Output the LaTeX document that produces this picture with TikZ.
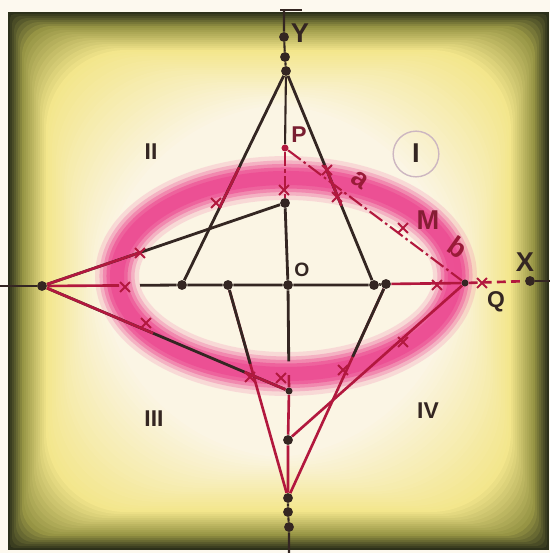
\documentclass[tikz,border=0pt]{standalone}
\usepackage{fontspec}
\setmainfont{Liberation Sans}
\usetikzlibrary{calc,shapes.misc}
\definecolor{ink}{RGB}{52,38,34}
\definecolor{crim}{RGB}{178,24,62}
\definecolor{rose}{RGB}{236,62,140}
\definecolor{darkolive}{RGB}{44,48,26}
\definecolor{olivey}{RGB}{150,148,68}
\definecolor{yel}{RGB}{243,230,140}
\definecolor{cream}{RGB}{251,245,228}
\tikzset{
  dot/.style={circle,fill=ink,inner sep=0pt,minimum size=5.6pt},
  sdot/.style={circle,fill=ink,inner sep=0pt,minimum size=4pt},
  xmk/.style={cross out,draw=crim,line width=1.1pt,inner sep=0pt,minimum size=4.5pt},
  lab/.style={font=\bfseries\fontsize{13}{13}\selectfont,text=ink,inner sep=1pt},
  biglab/.style={lab,font=\bfseries\fontsize{15.5}{15.5}\selectfont},
  dk/.style={draw=ink,line width=1.6pt},
  rd/.style={draw=crim,line width=1.5pt}
}
\begin{document}
\begin{tikzpicture}[x=0.02cm,y=-0.02cm]
\useasboundingbox (0,0) rectangle (550,553);
\fill[cream!60!white] (0,0) rectangle (550,553);
\foreach \i in {0,...,7}{\pgfmathtruncatemacro\p{100*\i/7}\pgfmathsetmacro\r{2.4*\i}
  \fill[olivey!\p!darkolive,rounded corners=\r pt] (8+2*\i,12+2*\i) rectangle (549-2*\i,550-2*\i);}
\foreach \i in {8,...,19}{\pgfmathtruncatemacro\p{(\i-7)*100/12}\pgfmathsetmacro\r{2.4*\i}
  \fill[yel!\p!olivey,rounded corners=\r pt] (8+2*\i,12+2*\i) rectangle (549-2*\i,550-2*\i);}
\foreach \i in {20,...,46}{\pgfmathtruncatemacro\p{(\i-19)*100/27}\pgfmathsetmacro\r{2.4*\i}
  \fill[cream!\p!yel,rounded corners=\r pt] (8+2*\i,12+2*\i) rectangle (549-2*\i,550-2*\i);}
\foreach \w/\o in {25/.15,20/.25,16/.35,12/.5,8/.5}
  \draw[rose,line width=\w pt,opacity=\o] (286,276) ellipse [x radius=169,y radius=98];

\node[dot] (y1) at (284,37) {};
\node[dot] (y2) at (285,57) {};
\node[dot] (A) at (286,71) {};
\node[sdot,fill=crim] (P) at (285,148) {};
\node[dot] (S) at (285,203) {};
\node[dot] (O) at (288,285) {};
\node[dot] (L) at (42,286) {};
\node[dot] (E1) at (182,285) {};
\node[dot] (E2) at (228,285) {};
\node[dot] (E3) at (374,285) {};
\node[dot] (E4) at (386,284) {};
\node[sdot] (Q) at (465,283) {};
\node[dot] (X) at (530,281) {};
\node[sdot] (V) at (289,391) {};
\node[dot] (W) at (288,440) {};
\node[dot] (B) at (288,498) {};
\node[dot] (b2) at (288,512) {};
\node[dot] (b3) at (289,527) {};
\coordinate (ytop) at (284,10);
\coordinate (ybot) at (289,553);
\coordinate (xl) at (0,286);
\coordinate (xr) at (550,281);
\coordinate (tk1) at (280,10);
\coordinate (tk2) at (302,10);

\draw[ink,line width=1pt] (tk1) -- (tk2);
\draw[dk,line width=1.2pt] (ytop) -- (y1) -- (y2) -- (A) -- (P);
\draw[rd,dash pattern=on 8pt off 2pt on 2pt off 2pt] (P) -- (S);
\draw[dk] (S) -- (O) -- ($(O)!0.72!(V)$);
\draw[rd] ($(O)!0.85!(V)$) -- (V) -- (W) -- (B);
\draw[dk,line width=1.2pt] (B) -- (b2) -- (b3) -- (ybot);

\draw[dk,line width=1pt] (xl) -- (L);
\draw[rd] (L) -- ($(L)!0.55!(E1)$);
\draw[dk] ($(L)!0.7!(E1)$) -- (E1) -- (E2) -- (O) -- (E3) -- (E4);
\draw[rd] (E4) -- (Q);
\draw[rd,dash pattern=on 5pt off 3pt] (Q) -- (X);
\draw[dk,line width=1.2pt] (X) -- (xr);

\draw[dk] (A) -- (E1);
\draw[rd] ($(A)!0.45!(E1)$) -- ($(A)!0.64!(E1)$);
\draw[dk] (A) -- (E3);
\draw[rd] ($(A)!0.44!(E3)$) -- ($(A)!0.63!(E3)$);
\draw[rd] (B) -- (E2);
\draw[dk] (E2) -- ($(E2)!0.37!(B)$);
\draw[rd] (B) -- (E4);
\draw[dk] (E4) -- ($(E4)!0.34!(B)$);
\draw[dk] (L) -- (S);
\draw[rd] (L) -- ($(L)!0.4!(S)$);
\draw[dk] (L) -- (V);
\draw[rd] (L) -- ($(L)!0.45!(V)$);
\draw[rd] ($(L)!0.82!(V)$) -- (V);
\draw[rd] (W) -- (Q);
\draw[rd,line width=1.2pt,dash pattern=on 9pt off 2pt on 1.5pt off 2pt] (P) -- (Q);

\foreach \p [count=\k] in {(284,190),(216,203),(327,170),(337,197),(403,228),(437,285),(125,287),(140,253),(146,323),(250,377),(281,378),(343,370),(403,342),(482,283)}
  \node[xmk] (m\k) at \p {};

\node[biglab] (lY) at (300,33) {Y};
\node[biglab] (lX) at (525,262) {X};
\node[lab,font=\bfseries\fontsize{11}{11}\selectfont] (lO) at (302,270) {O};
\node[lab,text=crim!55!ink] (lP) at (299,135) {P};
\node[lab] (lQ) at (496,302) {Q};
\node[biglab,text=crim!65!ink] (lM) at (428,220) {M};
\node[biglab,text=crim!80!ink,rotate=-35] (la) at (360,180) {a};
\node[biglab,text=crim!80!ink,rotate=-35] (lb) at (458,247) {b};
\node[lab] (lII) at (151,152) {II};
\node[lab] (lIII) at (154,419) {III};
\node[lab] (lIV) at (428,411) {IV};
\node[biglab] (lI) at (416,153) {I};
\node[circle,draw=rose!25!gray!50,line width=.8pt,minimum size=26pt] (cI) at (416,154) {};
\end{tikzpicture}
\end{document}
